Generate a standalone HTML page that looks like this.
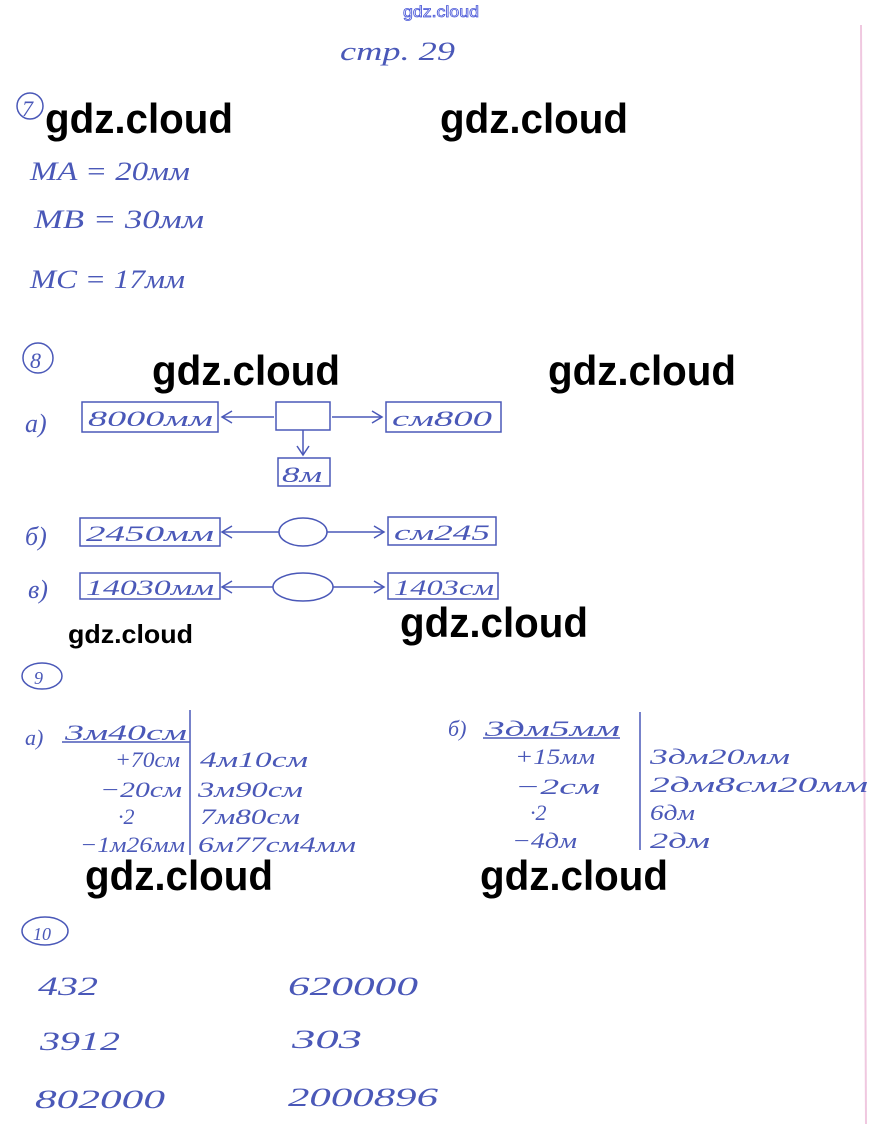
<!DOCTYPE html>
<html><head><meta charset="utf-8"><style>
body{margin:0;background:#fff;}
svg{display:block}
.h{font-family:"Liberation Serif",serif;font-style:italic;fill:#4a58b8;}
.w{font-family:"Liberation Sans",sans-serif;font-weight:bold;fill:#000;}
</style></head><body>
<svg width="883" height="1124" viewBox="0 0 883 1124">
<rect width="883" height="1124" fill="#fff"/>
<line x1="861" y1="25" x2="866" y2="1124" stroke="#f0c8e0" stroke-width="2"/>
<text x="403" y="17" font-family="Liberation Sans,sans-serif" font-size="16" fill="#fff" stroke="#4a58d8" stroke-width="0.8" textLength="76" lengthAdjust="spacingAndGlyphs">gdz.cloud</text>
<g class="h" font-size="26">
<text x="340" y="60" textLength="115" lengthAdjust="spacingAndGlyphs">стр. 29</text>
<circle cx="30" cy="106" r="13" fill="none" stroke="#4a58b8" stroke-width="1.5"/>
<text x="22" y="116" font-size="22">7</text>
<text x="30" y="180" textLength="160" lengthAdjust="spacingAndGlyphs">MA = 20мм</text>
<text x="34" y="228" textLength="170" lengthAdjust="spacingAndGlyphs">MB = 30мм</text>
<text x="30" y="288" textLength="155" lengthAdjust="spacingAndGlyphs">MC = 17мм</text>
<circle cx="38" cy="358" r="15" fill="none" stroke="#4a58b8" stroke-width="1.5"/>
<text x="30" y="368" font-size="22">8</text>
<text x="25" y="432">а)</text>
<text x="25" y="545">б)</text>
<text x="28" y="598">в)</text>
</g>
<g fill="none" stroke="#4a58b8" stroke-width="1.5">
<rect x="82" y="402" width="136" height="30"/>
<rect x="276" y="402" width="54" height="28"/>
<rect x="386" y="402" width="115" height="30"/>
<rect x="278" y="458" width="52" height="28"/>
<line x1="274" y1="417" x2="222" y2="417"/><path d="M232 411 L222 417 L232 423"/>
<line x1="332" y1="417" x2="382" y2="417"/><path d="M372 411 L382 417 L372 423"/>
<line x1="303" y1="430" x2="303" y2="455"/><path d="M297 446 L303 455 L309 446"/>
<rect x="80" y="518" width="140" height="28"/>
<ellipse cx="303" cy="532" rx="24" ry="14"/>
<rect x="388" y="517" width="108" height="28"/>
<line x1="279" y1="532" x2="222" y2="532"/><path d="M232 526 L222 532 L232 538"/>
<line x1="327" y1="532" x2="384" y2="532"/><path d="M374 526 L384 532 L374 538"/>
<rect x="80" y="573" width="140" height="26"/>
<ellipse cx="303" cy="587" rx="30" ry="14"/>
<rect x="388" y="573" width="110" height="26"/>
<line x1="273" y1="587" x2="222" y2="587"/><path d="M232 581 L222 587 L232 593"/>
<line x1="333" y1="587" x2="384" y2="587"/><path d="M374 581 L384 587 L374 593"/>
<ellipse cx="42" cy="676" rx="20" ry="13"/>
<line x1="190" y1="710" x2="190" y2="855"/>
<line x1="62" y1="742" x2="190" y2="742"/>
<line x1="640" y1="712" x2="640" y2="850"/>
<line x1="483" y1="738" x2="620" y2="738"/>
<ellipse cx="45" cy="931" rx="23" ry="14"/>
</g>
<g class="h" font-size="22">
<text x="88" y="426" textLength="125" lengthAdjust="spacingAndGlyphs">8000мм</text>
<text x="392" y="426" textLength="100" lengthAdjust="spacingAndGlyphs">см800</text>
<text x="282" y="482" textLength="40" lengthAdjust="spacingAndGlyphs">8м</text>
<text x="86" y="541" textLength="128" lengthAdjust="spacingAndGlyphs">2450мм</text>
<text x="394" y="540" textLength="96" lengthAdjust="spacingAndGlyphs">см245</text>
<text x="86" y="595" textLength="128" lengthAdjust="spacingAndGlyphs">14030мм</text>
<text x="394" y="595" textLength="100" lengthAdjust="spacingAndGlyphs">1403см</text>
<text x="34" y="684" font-size="18">9</text>
<text x="25" y="745">а)</text><text x="65" y="740" textLength="122" lengthAdjust="spacingAndGlyphs">3м40см</text>
<text x="115" y="767" textLength="65" lengthAdjust="spacingAndGlyphs">+70см</text><text x="200" y="767" textLength="108" lengthAdjust="spacingAndGlyphs">4м10см</text>
<text x="100" y="797" textLength="82" lengthAdjust="spacingAndGlyphs">−20см</text><text x="198" y="797" textLength="105" lengthAdjust="spacingAndGlyphs">3м90см</text>
<text x="118" y="824">·2</text><text x="200" y="824" textLength="100" lengthAdjust="spacingAndGlyphs">7м80см</text>
<text x="80" y="852" textLength="105" lengthAdjust="spacingAndGlyphs">−1м26мм</text><text x="198" y="852" textLength="158" lengthAdjust="spacingAndGlyphs">6м77см4мм</text>
<text x="448" y="736">б)</text><text x="485" y="736" textLength="135" lengthAdjust="spacingAndGlyphs">3дм5мм</text>
<text x="515" y="764" textLength="80" lengthAdjust="spacingAndGlyphs">+15мм</text><text x="650" y="764" textLength="140" lengthAdjust="spacingAndGlyphs">3дм20мм</text>
<text x="515" y="794" textLength="85" lengthAdjust="spacingAndGlyphs">−2см</text><text x="650" y="792" textLength="218" lengthAdjust="spacingAndGlyphs">2дм8см20мм</text>
<text x="530" y="820">·2</text><text x="650" y="820" textLength="45" lengthAdjust="spacingAndGlyphs">6дм</text>
<text x="512" y="848" textLength="65" lengthAdjust="spacingAndGlyphs">−4дм</text><text x="650" y="848" textLength="60" lengthAdjust="spacingAndGlyphs">2дм</text>
<text x="33" y="940" font-size="18">10</text>
<text x="38" y="995" font-size="26" textLength="60" lengthAdjust="spacingAndGlyphs">432</text><text x="288" y="995" font-size="26" textLength="130" lengthAdjust="spacingAndGlyphs">620000</text>
<text x="40" y="1050" font-size="26" textLength="80" lengthAdjust="spacingAndGlyphs">3912</text><text x="292" y="1048" font-size="26" textLength="70" lengthAdjust="spacingAndGlyphs">303</text>
<text x="35" y="1108" font-size="26" textLength="130" lengthAdjust="spacingAndGlyphs">802000</text><text x="288" y="1106" font-size="26" textLength="150" lengthAdjust="spacingAndGlyphs">2000896</text>
</g>
<g class="w" font-size="42">
<text x="45" y="133" textLength="188" lengthAdjust="spacingAndGlyphs">gdz.cloud</text>
<text x="440" y="133" textLength="188" lengthAdjust="spacingAndGlyphs">gdz.cloud</text>
<text x="152" y="385" textLength="188" lengthAdjust="spacingAndGlyphs">gdz.cloud</text>
<text x="548" y="385" textLength="188" lengthAdjust="spacingAndGlyphs">gdz.cloud</text>
<text x="400" y="637" textLength="188" lengthAdjust="spacingAndGlyphs">gdz.cloud</text>
<text x="68" y="643" font-size="26" textLength="125" lengthAdjust="spacingAndGlyphs">gdz.cloud</text>
<text x="85" y="890" textLength="188" lengthAdjust="spacingAndGlyphs">gdz.cloud</text>
<text x="480" y="890" textLength="188" lengthAdjust="spacingAndGlyphs">gdz.cloud</text>
</g>
</svg>
</body></html>
